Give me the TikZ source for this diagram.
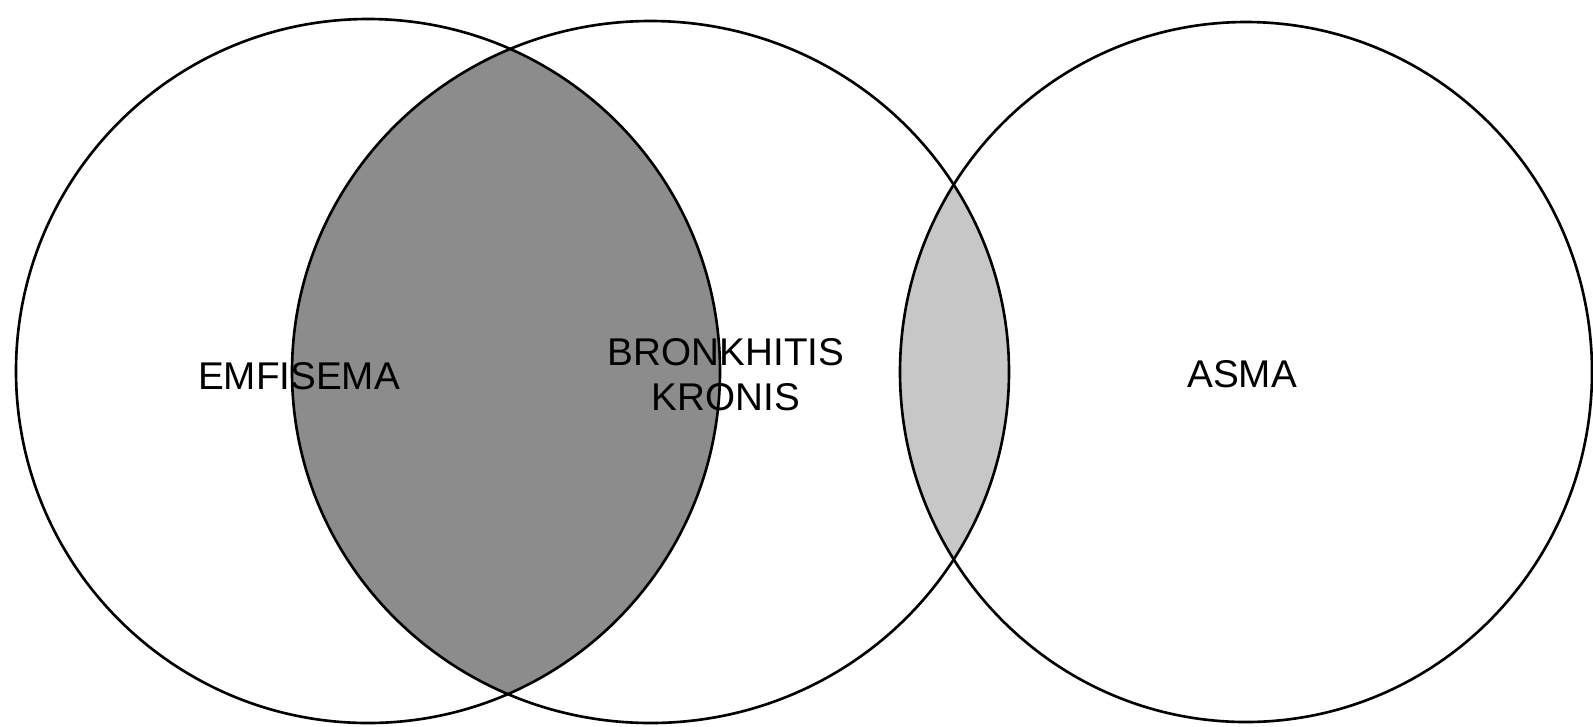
\documentclass[tikz,border=0pt]{standalone}
\usepackage{fontspec}
\setmainfont{Liberation Sans}

\begin{document}
\begin{tikzpicture}[font=\fontsize{11}{12.8}\selectfont,
 ring/.style={draw,line width=0.75pt},
 lensdark/.style={fill=black!45},
 lenslight/.style={fill=black!22},
 lbl/.style={align=center,inner sep=0pt}]
\useasboundingbox (0,0) rectangle (15.93,7.26);
\coordinate (c1) at (3.68,3.55);
\coordinate (c2) at (6.505,3.54);
\coordinate (c3) at (12.46,3.54);
% overlaps
\begin{scope}
\clip (c1) circle (3.52);
\fill[lensdark] (c2) ellipse (3.585 and 3.51);
\end{scope}
\begin{scope}
\clip (c3) ellipse (3.46 and 3.50);
\fill[lenslight] (c2) ellipse (3.585 and 3.51);
\end{scope}
\draw[ring] (c1) circle (3.52);
\draw[ring] (c2) ellipse (3.585 and 3.51);
\draw[ring] (c3) ellipse (3.46 and 3.50);
\node[lbl] (emf) at (2.99,3.50) {EMFISEMA};
\node[lbl] (bron) at (7.26,3.515) {BRONKHITIS\\KRONIS};
\node[lbl] (asma) at (12.42,3.52) {ASMA};
\end{tikzpicture}
\end{document}
